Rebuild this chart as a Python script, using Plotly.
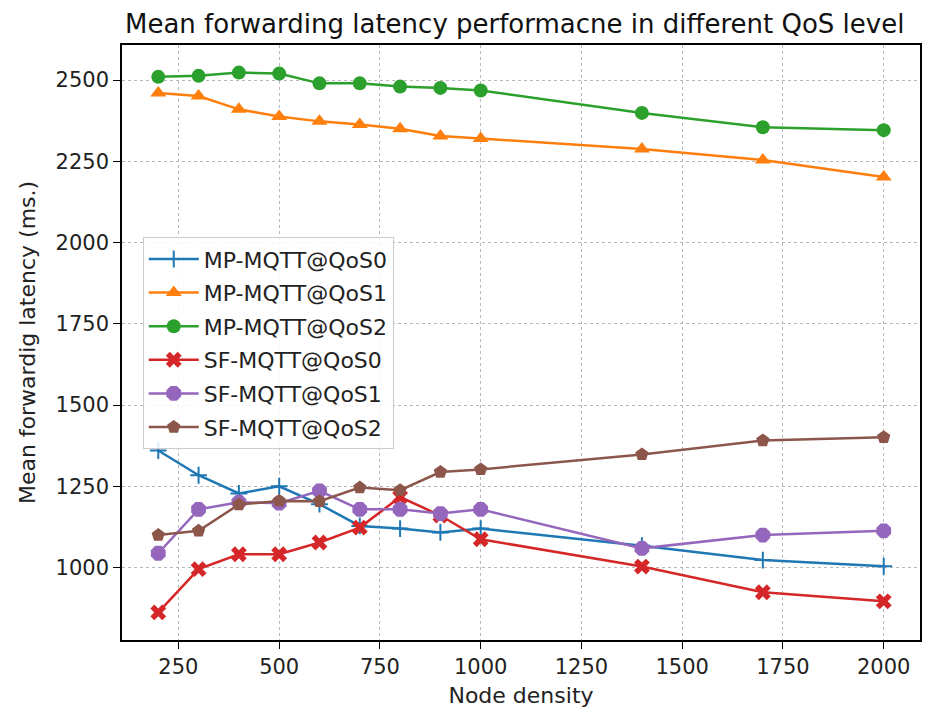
import plotly.graph_objects as go

node_density = [200, 300, 400, 500, 600, 700, 800, 900, 1000, 1400, 1700, 2000]

mp_qos0 = [1360, 1284, 1228, 1250, 1195, 1128, 1120, 1108, 1120, 1067, 1023, 1004]
mp_qos1 = [2460, 2451, 2410, 2388, 2373, 2363, 2350, 2328, 2320, 2288, 2254, 2202]
mp_qos2 = [2510, 2513, 2523, 2520, 2490, 2490, 2480, 2476, 2468, 2399, 2355, 2346]
sf_qos0 = [862, 995, 1041, 1041, 1077, 1123, 1217, 1160, 1087, 1003, 924, 896]
sf_qos1 = [1044, 1179, 1201, 1198, 1236, 1179, 1179, 1166, 1179, 1059, 1100, 1113]
sf_qos2 = [1100, 1113, 1194, 1205, 1204, 1246, 1238, 1294, 1302, 1348, 1391, 1401]

series = [
    ("MP-MQTT@QoS0", mp_qos0, "#1f77b4", "cross-thin", 12),
    ("MP-MQTT@QoS1", mp_qos1, "#ff7f0e", "triangle-up", 14),
    ("MP-MQTT@QoS2", mp_qos2, "#2ca02c", "circle", 14),
    ("SF-MQTT@QoS0", sf_qos0, "#d62728", "x", 14),
    ("SF-MQTT@QoS1", sf_qos1, "#9467bd", "octagon", 16),
    ("SF-MQTT@QoS2", sf_qos2, "#8c564b", "pentagon", 14),
]

fig = go.Figure()
for i, (name, vals, color, sym, size) in enumerate(series):
    fig.add_trace(go.Scatter(
        x=node_density, y=vals, name=name, mode="lines+markers",
        legendgroup=f"g{i}",
        line=dict(color=color, width=2.5),
        marker=dict(symbol=sym, size=size, color=color,
                    line=dict(color=color, width=2 if sym == "cross-thin" else 0)),
    ))

axis_common = dict(
    showline=True, linecolor="black", linewidth=1.5, mirror=True,
    ticks="outside", ticklen=7, tickwidth=1.2, tickcolor="black",
    showgrid=True, gridcolor="#b8b8b8", griddash="dot", gridwidth=1,
    zeroline=False, automargin=False,
    tickfont=dict(family="DejaVu Sans", size=21, color="#222"),
)

fig.update_layout(
    width=923, height=701,
    margin=dict(l=114, r=11, t=37, b=69),
    paper_bgcolor="white", plot_bgcolor="white",
    font=dict(family="DejaVu Sans", color="#222"),
    title=dict(text="Mean forwarding latency performacne in different QoS level",
               x=0.549, xanchor="center", xref="container",
               y=0.977, yanchor="middle", yref="container", automargin=False,
               font=dict(size=26, family="DejaVu Sans", color="#111")),
    xaxis=dict(range=[110, 2090], tickvals=[250, 500, 750, 1000, 1250, 1500, 1750, 2000],
               title=dict(text="Node density", font=dict(size=22), standoff=10),
               **axis_common),
    yaxis=dict(range=[777, 2608], tickvals=[1000, 1250, 1500, 1750, 2000, 2250, 2500],
               title=dict(text="Mean forwardig latency (ms.)", font=dict(size=22), standoff=14),
               **axis_common),
    legend=dict(x=0.026, y=0.677, xanchor="left", yanchor="top",
                bgcolor="rgba(255,255,255,0.85)", bordercolor="#cccccc", borderwidth=1,
                font=dict(size=22, family="DejaVu Sans", color="#222"),
                tracegroupgap=2, itemwidth=50),
)

fig.write_html("out.html")
